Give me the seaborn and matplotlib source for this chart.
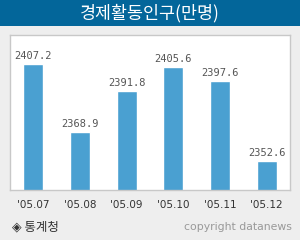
import numpy as np
import pandas as pd
import seaborn as sns
import matplotlib.pyplot as plt
from matplotlib.patches import Rectangle

#%% data
months = ["'05.07", "'05.08", "'05.09", "'05.10", "'05.11", "'05.12"]
workforce = [2407.2, 2368.9, 2391.8, 2405.6, 2397.6, 2352.6]
title = '경제활동인구(만명)'
source = '◈ 통계청'

df = pd.DataFrame({'month': months, 'value': workforce})

#%% plot
sns.set_style('white')
plt.rcParams['font.family'] = ['Noto Sans CJK KR', 'DejaVu Sans']

fig = plt.figure(figsize=(3, 2.4), dpi=100, facecolor='#eeeeee')
ax = fig.add_axes([10/300, 1 - 190/240, 280/300, 155/240])

sns.barplot(data=df, x='month', y='value', color='#4aa0d1',
            saturation=1, width=0.43, ax=ax)

ax.set_ylim(2336.3, 2423.5)
ax.set_xlim(-0.5, 5.5)
ax.set_xlabel('')
ax.set_ylabel('')
ax.set_yticks([])
ax.set_facecolor('white')
for s in ax.spines.values():
    s.set_color('#c8c8c8')
    s.set_linewidth(1)

ax.set_xticks(range(len(months)))
ax.set_xticklabels(months, family='DejaVu Sans', fontsize=7.5, color='#333333')
ax.set_xticks(np.arange(0.5, 5.5, 1), minor=True)
ax.tick_params(axis='x', which='major', length=0, pad=7)
ax.tick_params(axis='x', which='minor', direction='in', length=4, color='#999999')

for i, v in enumerate(workforce):
    ax.text(i, v + 1.8, f'{v:.1f}', ha='center', va='bottom',
            family='DejaVu Sans Mono', fontsize=7.5, color='#555555')

# header bar
fig.patches.append(Rectangle((0, 1 - 26/240), 1, 26/240, transform=fig.transFigure,
                             facecolor='#03669a', edgecolor='none', zorder=0))
fig.text(0.5, 1 - 13/240, title, ha='center', va='center', color='white',
         fontsize=12.5, fontweight='medium')

# footer
fig.text(12/300, 1 - 227/240, source, ha='left', va='center',
         fontsize=9, color='#333333')
fig.text(292/300, 1 - 227/240, 'copyright datanews', ha='right', va='center',
         family='DejaVu Sans', fontsize=7.8, color='#999999')

fig.savefig('out.png', dpi=100, facecolor=fig.get_facecolor())
